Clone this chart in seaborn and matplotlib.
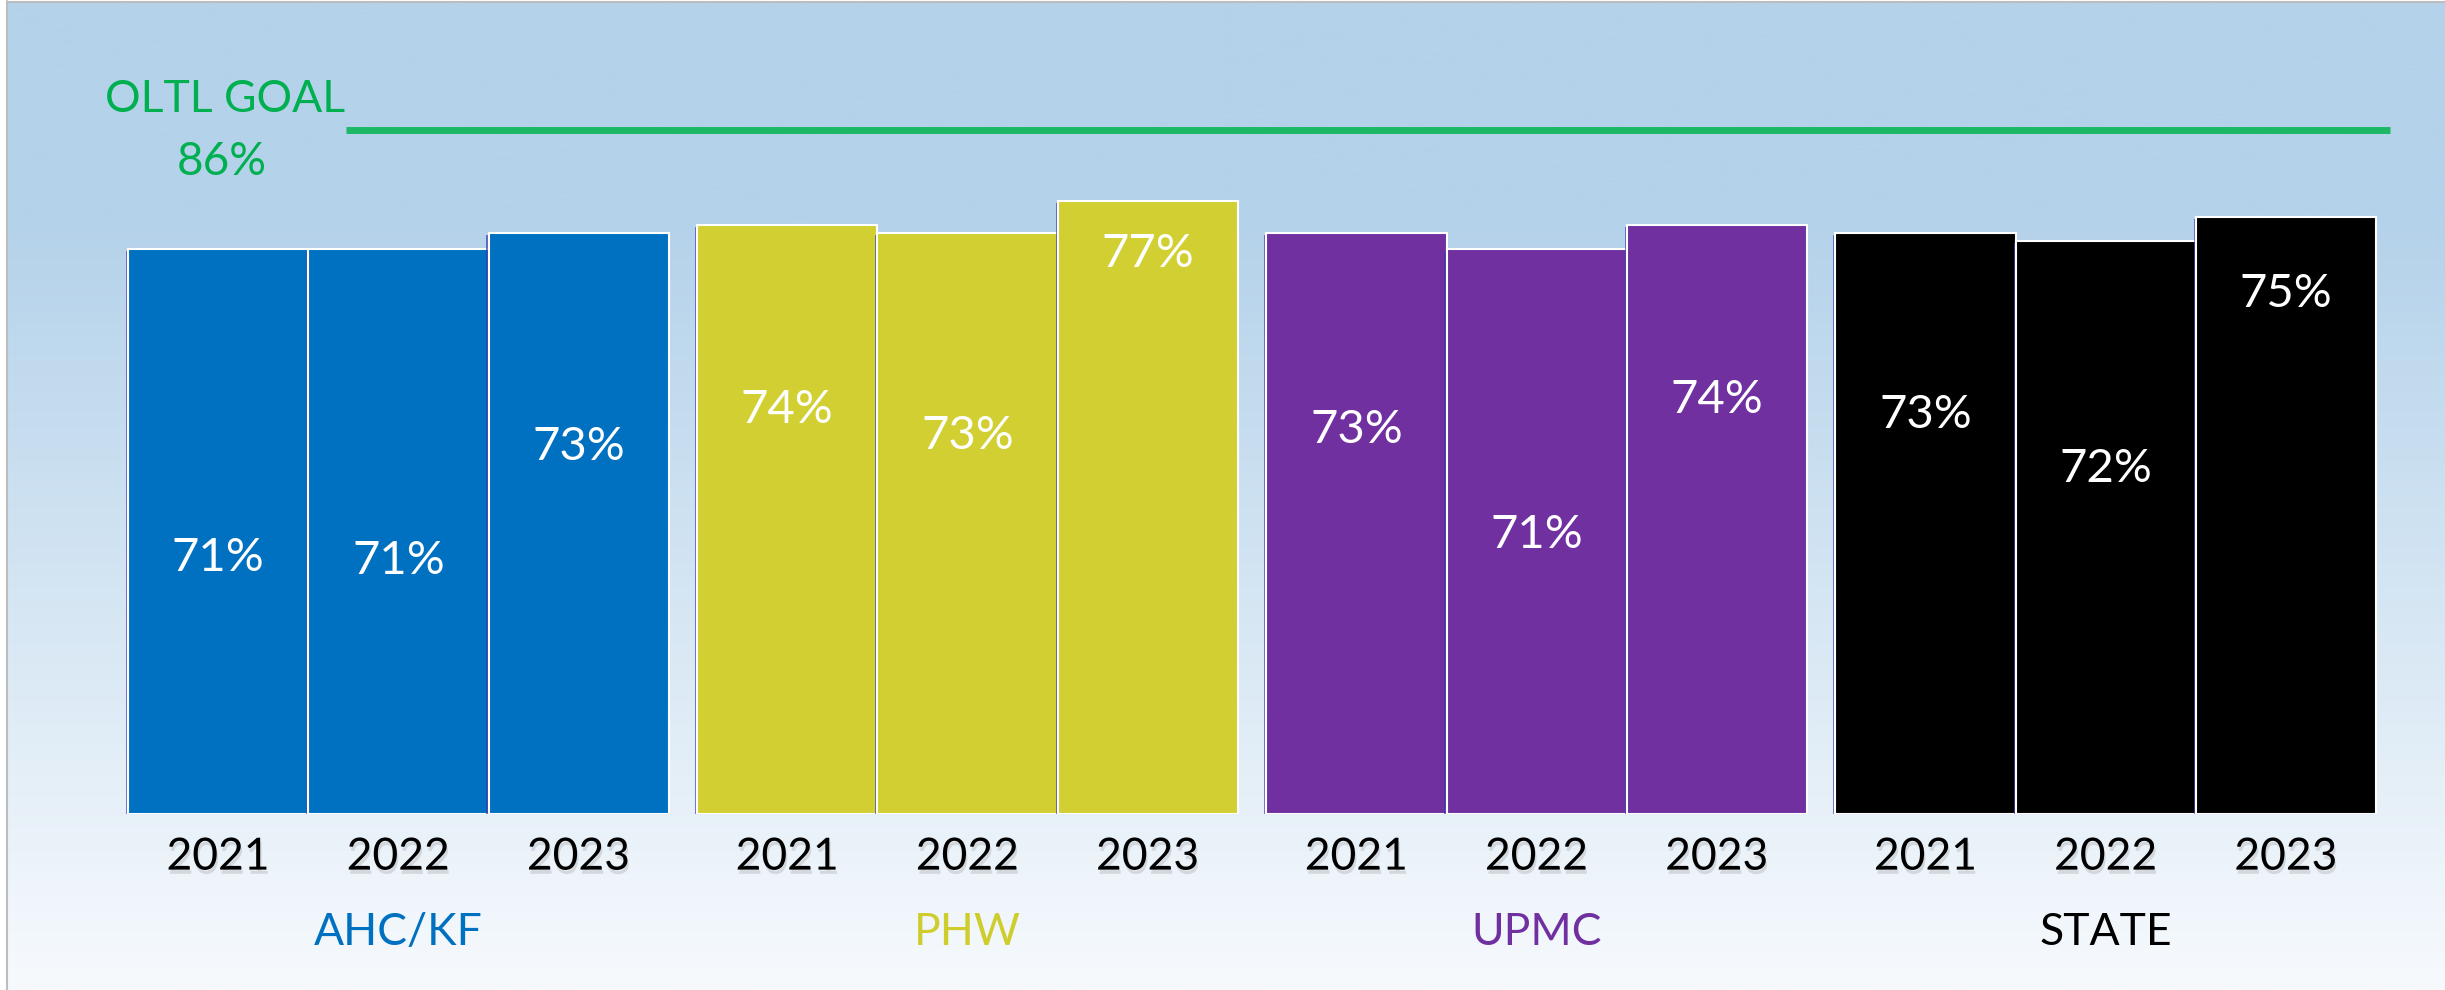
import numpy as np
import pandas as pd
import matplotlib
matplotlib.use("Agg")
import matplotlib.pyplot as plt
import matplotlib.patheffects as pe
from matplotlib.lines import Line2D
import seaborn as sns

# data
providers = ["AHC/KF", "PHW", "UPMC", "STATE"]
years = ["2021", "2022", "2023"]
ahc_vals = [71, 71, 73]
phw_vals = [74, 73, 77]
upmc_vals = [73, 71, 74]
state_vals = [73, 72, 75]
goal = 86

bar_colors = ["#0070C0", "#D1CF31", "#7030A0", "#000000"]
label_colors = ["#0070C0", "#CFCD2E", "#7030A0", "#000000"]
goal_color = "#00B050"
# label heights inside the bars (data units), placed by hand on the slide
label_y = [32.2, 31.8, 46.1, 50.8, 47.5, 70.4, 48.2, 35.1, 52.0, 50.2, 43.3, 65.3]

rows = []
for prov, vals in zip(providers, [ahc_vals, phw_vals, upmc_vals, state_vals]):
    for yr, v in zip(years, vals):
        rows.append({"provider": prov, "year": yr, "value": v})
df = pd.DataFrame(rows)

sns.set_theme(style="white")
plt.rcParams["font.family"] = ["Lato", "DejaVu Sans"]

W, H = 2445, 990
fig = plt.figure(figsize=(W / 100, H / 100), dpi=100, facecolor="white")

# background gradient: flat light blue, fading to near-white at the bottom
bg = fig.add_axes([7 / W, 0, 1 - 7 / W, 1 - 2 / H], zorder=0)
n = 400
t = np.linspace(0, 1, n)
t = np.clip((t - 0.22) / 0.78, 0, 1)
top = np.array([180, 210, 234]) / 255
bot = np.array([247, 250, 253]) / 255
grad = top[None, :] * (1 - t[:, None]) + bot[None, :] * t[:, None]
bg.imshow(grad[:, None, :], aspect="auto", extent=[0, 1, 0, 1])
bg.set_axis_off()
fig.add_artist(Line2D([7 / W, 7 / W], [0, 1 - 1 / H], color="#BDBDBD", lw=1.5))
fig.add_artist(Line2D([7 / W, 1], [1 - 1.5 / H, 1 - 1.5 / H], color="#BDBDBD", lw=1.5))

base = 814
ax = fig.add_axes([0, (H - base) / H, 1, base / H], zorder=1)
ax.patch.set_alpha(0)

for prov, col in zip(providers, bar_colors):
    sub = df[df["provider"] == prov]
    sns.barplot(data=sub, x="provider", y="value", hue="year", order=providers,
                hue_order=years, palette=[col] * 3, saturation=1, width=0.95,
                edgecolor="white", linewidth=1.5, errorbar=None, legend=False, ax=ax)

ax.set_xlim(-0.700, 3.596)
ax.set_ylim(0, 102.3)
ax.set_axis_off()

bars = sorted(ax.patches, key=lambda p: p.get_x())
bar_shadow = [pe.SimplePatchShadow(offset=(-1.5, -1.5), shadow_rgbFace="#3b3bb0", alpha=0.7), pe.Normal()]
year_shadow = [pe.SimplePatchShadow(offset=(1.0, -3.0), shadow_rgbFace="#8a8a8a", alpha=0.25), pe.Normal()]
xfm = ax.get_xaxis_transform()

for i, (p, v) in enumerate(zip(bars, df["value"])):
    p.set_path_effects(bar_shadow)
    cx = p.get_x() + p.get_width() / 2
    ax.text(cx, label_y[i], f"{v}%", color="white", fontsize=34,
            ha="center", va="center")
    ax.text(cx, -0.053, df["year"].iloc[i], color="black", fontsize=32,
            ha="center", va="center", transform=xfm, clip_on=False,
            path_effects=year_shadow)

for i, (prov, col) in enumerate(zip(providers, label_colors)):
    ax.text(i, -0.145, prov, color=col, fontsize=32, ha="center", va="center",
            transform=xfm, clip_on=False)

# goal line and its label
ax.hlines(goal, -0.092, 3.50, color="#1DB866", lw=5)
ax.text(-0.305, 89.8, "OLTL GOAL", color=goal_color, fontsize=32, ha="center", va="center")
ax.text(-0.311, 82.0, f"{goal}%", color=goal_color, fontsize=33, ha="center", va="center")

fig.savefig("out.png", dpi=100, facecolor="white")
